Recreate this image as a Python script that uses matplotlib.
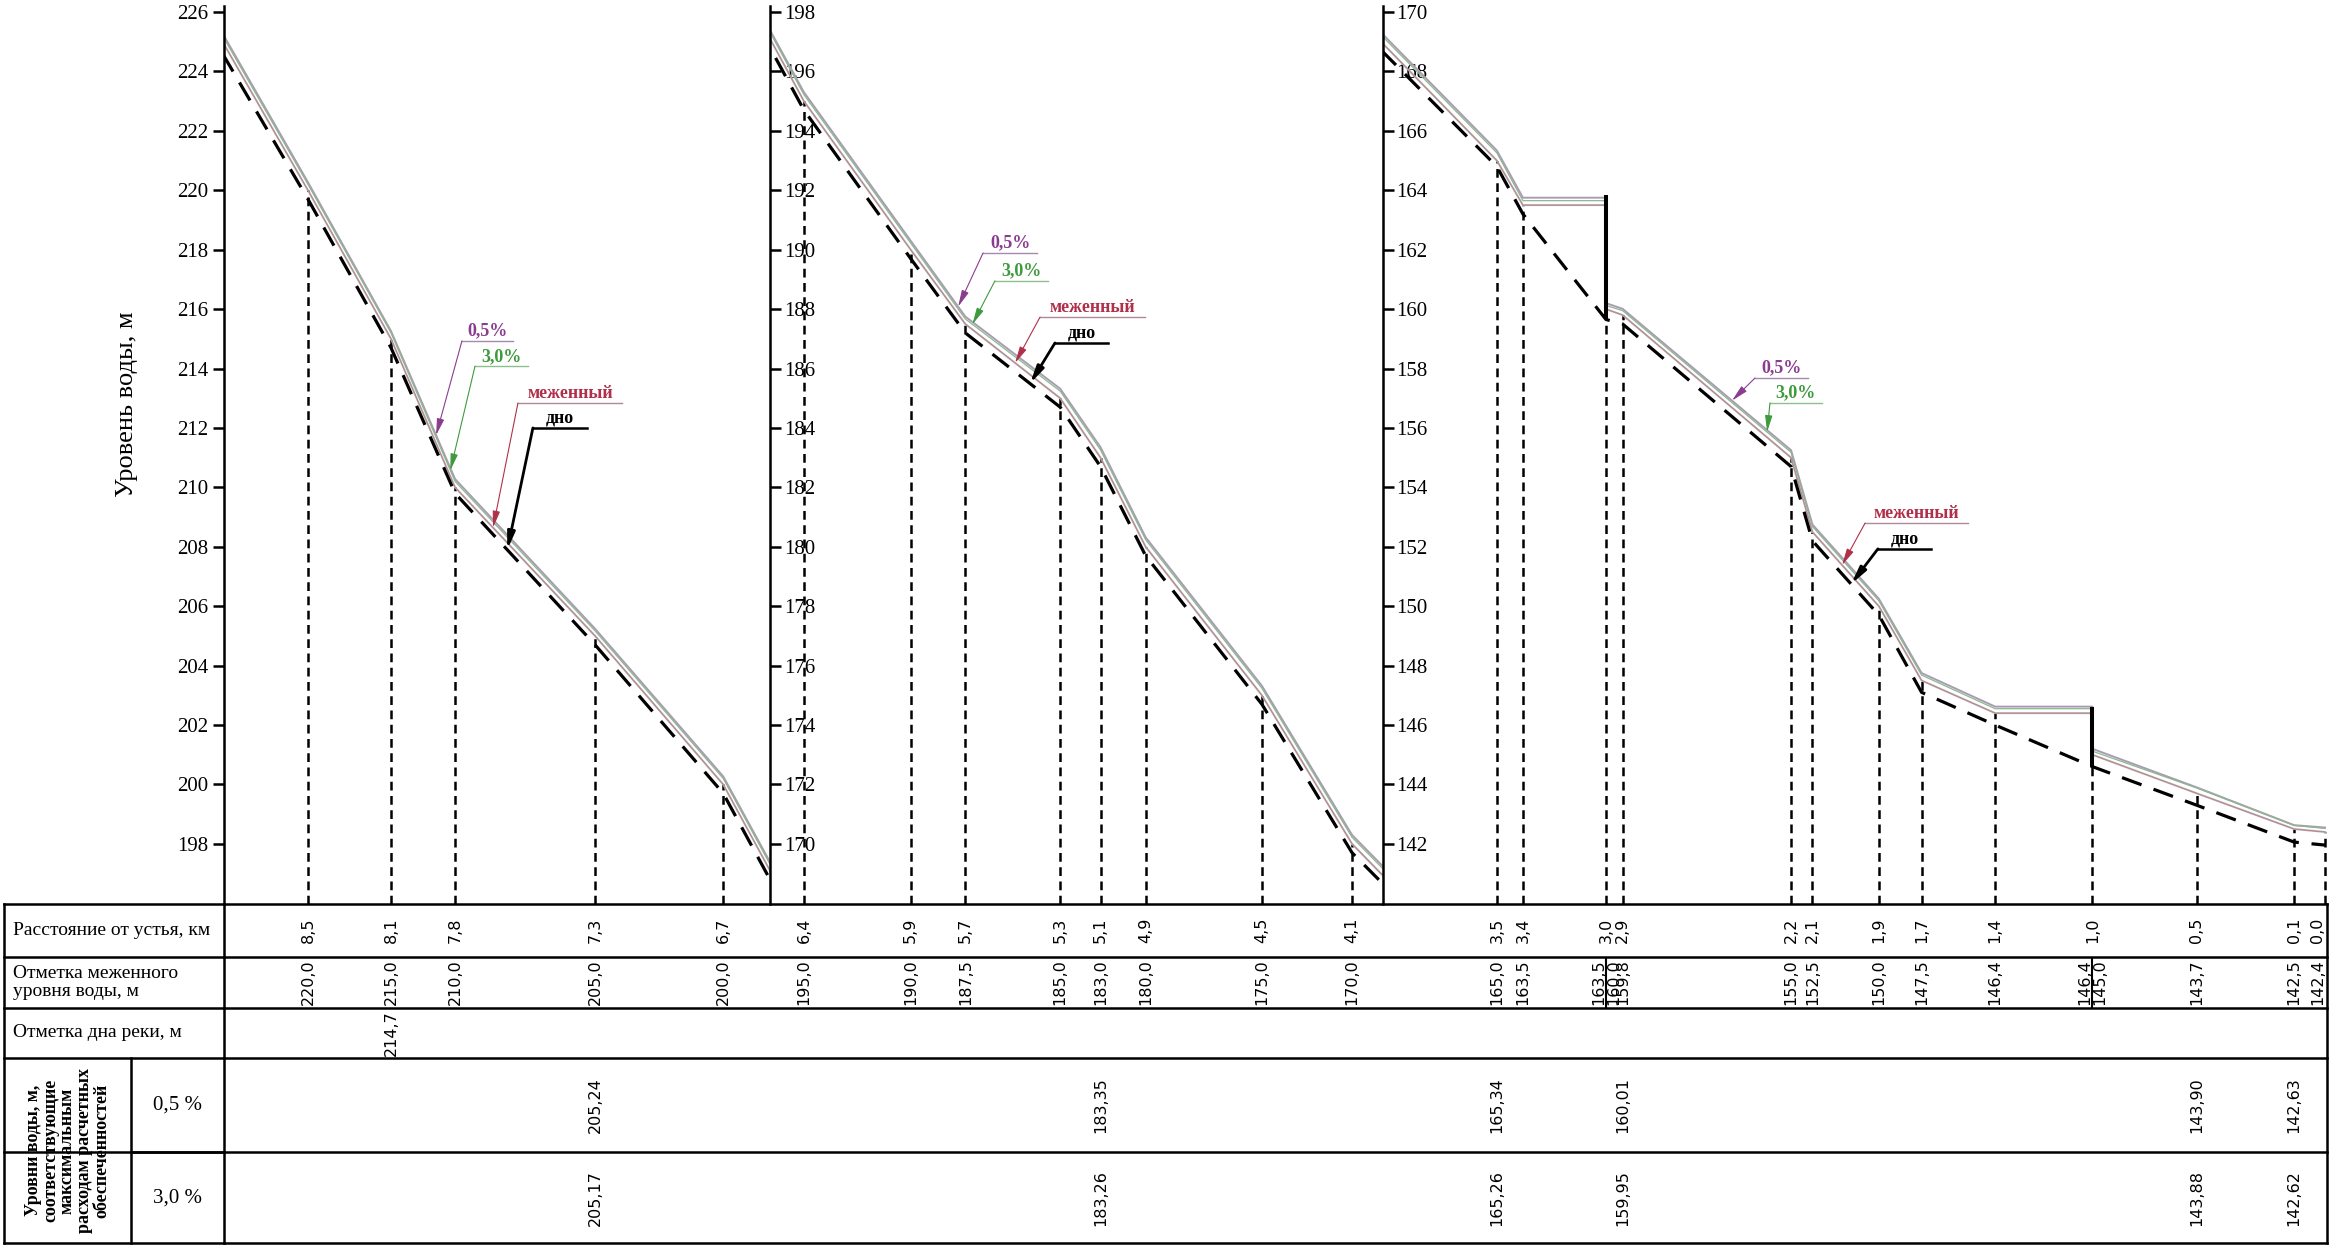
import numpy as np
import matplotlib
matplotlib.use('Agg')
import matplotlib.pyplot as plt
from matplotlib import font_manager

plt.rcParams['font.family'] = ['Liberation Serif', 'DejaVu Serif']

# stations as printed in the table (distance from the mouth, km)
station_km = ["8,5", "8,1", "7,8", "7,3", "6,7", "6,4", "5,9", "5,7", "5,3", "5,1",
              "4,9", "4,5", "4,1", "3,5", "3,4", "3,0", "2,9", "2,2", "2,1", "1,9",
              "1,7", "1,4", "1,0", "0,5", "0,1", "0,0"]
# position of each station along the drawing, km
station_pos = [8.50, 8.15, 7.88, 7.29, 6.75, 6.41, 5.96, 5.73, 5.33, 5.16,
               4.97, 4.48, 4.10, 3.49, 3.38, 3.03, 2.96, 2.25, 2.16, 1.88,
               1.70, 1.39, 0.98, 0.54, 0.13, 0.00]

# longitudinal profile: start of reach + stations, weirs at 3,0 and 1,0 appear twice
prof_pos = [8.86, 8.50, 8.15, 7.88, 7.29, 6.75, 6.41, 5.96, 5.73, 5.33, 5.16, 4.97,
            4.48, 4.10, 3.49, 3.38, 3.03, 3.03, 2.96, 2.25, 2.16, 1.88, 1.70, 1.39,
            0.98, 0.98, 0.54, 0.13, 0.00]
low_water = [225.0, 220.0, 215.0, 210.0, 205.0, 200.0, 195.0, 190.0, 187.5, 185.0, 183.0, 180.0,
             175.0, 170.0, 165.0, 163.5, 163.5, 160.0, 159.8, 155.0, 152.5, 150.0, 147.5, 146.4,
             146.4, 145.0, 143.7, 142.5, 142.4]
bed = [224.6, 219.7, 214.7, 209.8, 204.7, 199.7, 194.7, 189.7, 187.2, 184.7, 182.7, 179.7,
       174.7, 169.7, 164.8, 163.2, 159.65, 159.65, 159.5, 154.7, 152.2, 149.7, 147.1, 146.0,
       144.6, 144.6, 143.3, 142.06, 141.96]
flood_05 = [225.28, 220.27, 215.26, 210.28, 205.24, 200.27, 195.3, 190.3, 187.75, 185.32, 183.35, 180.32,
            175.32, 170.3, 165.34, 163.75, 163.75, 160.2, 160.01, 155.25, 152.75, 150.25, 147.75, 146.62,
            146.62, 145.2, 143.90, 142.63, 142.55]
flood_30 = [225.2, 220.2, 215.2, 210.2, 205.17, 200.2, 195.22, 190.22, 187.67, 185.24, 183.26, 180.24,
            175.24, 170.22, 165.26, 163.65, 163.65, 160.12, 159.95, 155.18, 152.68, 150.18, 147.68, 146.55,
            146.55, 145.12, 143.88, 142.62, 142.52]

# weirs
weir_km = ["3,0", "1,0"]
weir_top = [163.85, 146.6]
weir_foot = [159.65, 144.6]

# table rows
bed_km = ["8,1"]
bed_vals = [214.7]
flood_km = ["7,3", "5,1", "3,5", "2,9", "0,5", "0,1"]
flood_05_tab = [205.24, 183.35, 165.34, 160.01, 143.90, 142.63]
flood_30_tab = [205.17, 183.26, 165.26, 159.95, 143.88, 142.62]

panel_top = [226, 198, 170]

# ---- layout (pixels of the 2331x1250 sheet)
W, H = 2331, 1250
px_per_km = 237.3
x_zero = 2325          # pixel of 0 km
px_per_m = 29.71
tick_top_y = 12        # pixel of the top tick
plot_top, tab_top, tab_bot = 6, 904, 1243
panel_px = [224, 770, 1382.5, 2327]
lab_left = 4


def km(s):
    return station_pos[station_km.index(s)]


def fmt(v, n):
    return f"{v:.{n}f}".replace('.', ',')


names = {f.name for f in font_manager.fontManager.ttflist}
val_family = 'DejaVu Sans Condensed' if 'DejaVu Sans Condensed' in names else 'DejaVu Sans'
val_font = dict(family=val_family, fontsize=12 if val_family.endswith('Condensed') else 11.5)

fig = plt.figure(figsize=(W / 100, H / 100), dpi=100)
fig.patch.set_facecolor('white')

pos_rev = np.array(prof_pos)[::-1]
series = {'p05': flood_05, 'p30': flood_30, 'low': low_water, 'bed': bed}

# levels at which the vertical station lines stop
station_level = [min(v for p, v in zip(prof_pos, low_water) if p == s) for s in station_pos]

# leader notes: panel, text, colour, underline colour, series, tip km, elbow km, elbow level, end km, lw
notes = [
    (0, '0,5%', '#8a3d8f', '#a58aae', 'p05', 7.96, 7.851, 214.93, 7.636, 0.8),
    (0, '3,0%', '#3f9a3f', '#8cc08c', 'p30', 7.90, 7.796, 214.08, 7.573, 0.8),
    (0, 'меженный', '#b0304a', '#b08898', 'low', 7.72, 7.615, 212.84, 7.177, 0.8),
    (0, 'дно', 'black', 'black', 'bed', 7.66, 7.552, 212.0, 7.324, 2.0),
    (1, '0,5%', '#8a3d8f', '#a58aae', 'p05', 5.76, 5.655, 189.89, 5.427, 0.8),
    (1, '3,0%', '#3f9a3f', '#8cc08c', 'p30', 5.70, 5.605, 188.95, 5.381, 0.8),
    (1, 'меженный', '#b0304a', '#b08898', 'low', 5.52, 5.415, 187.73, 4.973, 0.8),
    (1, 'дно', 'black', 'black', 'bed', 5.457, 5.352, 186.86, 5.129, 2.0),
    (2, '0,5%', '#8a3d8f', '#a58aae', 'p05', 2.499, 2.402, 157.68, 2.179, 0.8),
    (2, '3,0%', '#3f9a3f', '#8cc08c', 'p30', 2.351, 2.339, 156.84, 2.120, 0.8),
    (2, 'меженный', '#b0304a', '#b08898', 'low', 2.035, 1.938, 152.8, 1.504, 0.8),
    (2, 'дно', 'black', 'black', 'bed', 1.997, 1.884, 151.93, 1.660, 2.0),
]

for i, top in enumerate(panel_top):
    x0, x1 = panel_px[i], panel_px[i + 1]
    ax = fig.add_axes([x0 / W, 1 - tab_top / H, (x1 - x0) / W, (tab_top - plot_top) / H])
    ax.set_xlim((x_zero - x0) / px_per_km, (x_zero - x1) / px_per_km)
    bottom = top - (tab_top - tick_top_y) / px_per_m
    ax.set_ylim(bottom, top + (tick_top_y - plot_top) / px_per_m)
    ax.patch.set_alpha(0)

    ax.vlines(station_pos, bottom, station_level, colors='black', lw=1.8,
              linestyles=(0, (3.5, 2.2)))
    ax.plot(prof_pos, flood_05, color='#a89cb4', lw=1.4)
    ax.plot(prof_pos, flood_30, color='#8cb88c', lw=0.9)
    ax.plot(prof_pos, low_water, color='#b4acb0', lw=1.4)
    ax.plot(prof_pos, low_water, color='#c07080', lw=0.4)
    ax.plot(prof_pos, bed, color='black', lw=2.3, linestyle=(0, (6.5, 4)))
    ax.vlines([km(k) for k in weir_km], weir_foot, weir_top, colors='black', lw=2.9)

    for p, txt, c, uc, key, tip, ex, ey, end, lw in notes:
        if p != i:
            continue
        tip_y = np.interp(tip, pos_rev, np.array(series[key])[::-1])
        ax.annotate('', xy=(tip, tip_y), xytext=(ex, ey),
                    arrowprops=dict(arrowstyle='-|>,head_length=1.0,head_width=0.22',
                                    color=c, lw=lw, shrinkA=0, shrinkB=0, mutation_scale=10))
        ax.plot([ex, end], [ey, ey], color=uc, lw=1.0 if lw < 1 else 1.8)
        ax.annotate(txt, xy=((ex + end) / 2, ey), xytext=(0, 1), textcoords='offset points',
                    ha='center', va='bottom', color=c, fontsize=13, fontweight='bold')

    for s in ['top', 'bottom']:
        ax.spines[s].set_visible(False)
    ax.set_xticks([])
    ax.set_yticks(np.arange(top - 28, top + 1, 2))
    if i == 0:
        ax.spines['right'].set_visible(False)
        ax.spines['left'].set_linewidth(1.8)
        ax.tick_params(axis='y', direction='out', length=8, width=1.8, labelsize=15, pad=3)
    else:
        ax.spines['left'].set_visible(False)
        ax.spines['right'].set_position(('axes', 0))
        ax.spines['right'].set_linewidth(1.8)
        ax.yaxis.tick_right()
        ax.tick_params(axis='y', direction='out', length=8, width=1.8, labelsize=15, pad=2)

fig.text(127 / W, 1 - 404 / H, 'Уровень воды, м', rotation=90, ha='center', va='center',
         fontsize=19)

# ---- table
rows = [0, 0.156, 0.307, 0.454, 0.732, 1.0]
mid = [(a + b) / 2 for a, b in zip(rows[:-1], rows[1:])]
lk = dict(color='black', lw=1.8, clip_on=False)

ax_l = fig.add_axes([lab_left / W, 1 - tab_bot / H, (panel_px[0] - lab_left) / W, (tab_bot - tab_top) / H])
ax_l.set_xlim(0, 1)
ax_l.set_ylim(1, 0)
ax_l.axis('off')
sub = (131 - lab_left) / (panel_px[0] - lab_left)
for r in rows:
    ax_l.plot([0, 1], [r, r], **lk)
ax_l.plot([0, 0], [0, 1], **lk)
ax_l.plot([1, 1], [0, 1], **lk)
ax_l.plot([sub, sub], [rows[3], 1], **lk)
ax_l.plot([sub, 1], [rows[4], rows[4]], **lk)

ax_l.text(0.04, mid[0], 'Расстояние от устья, км', ha='left', va='center', fontsize=14)
ax_l.text(0.04, mid[1], 'Отметка меженного\nуровня воды, м', ha='left', va='center',
          fontsize=14, linespacing=1.05)
ax_l.text(0.04, mid[2], 'Отметка дна реки, м', ha='left', va='center', fontsize=14)
ax_l.text(sub / 2, (rows[3] + rows[5]) / 2,
          'Уровни воды, м,\nсоответствующие\nмаксимальным\nрасходам расчетных\nобеспеченностей',
          rotation=90, ha='center', va='center', multialignment='center', fontsize=13,
          fontweight='bold', linespacing=1.0)
ax_l.text((sub + 1) / 2, mid[3], '0,5 %', ha='center', va='center', fontsize=15)
ax_l.text((sub + 1) / 2, mid[4], '3,0 %', ha='center', va='center', fontsize=15)

ax_t = fig.add_axes([panel_px[0] / W, 1 - tab_bot / H, (panel_px[-1] - panel_px[0]) / W,
                     (tab_bot - tab_top) / H])
ax_t.set_xlim((x_zero - panel_px[0]) / px_per_km, (x_zero - panel_px[-1]) / px_per_km)
ax_t.set_ylim(1, 0)
ax_t.axis('off')
yt = ax_t.get_yaxis_transform()
for r in rows:
    ax_t.plot([0, 1], [r, r], transform=yt, **lk)
ax_t.plot([1, 1], [0, 1], transform=yt, **lk)
ax_t.vlines([km(k) for k in weir_km], rows[1], rows[2], colors='black', lw=1.5)

last = len(station_km) - 1
for j, (k, p) in enumerate(zip(station_km, station_pos)):
    ax_t.text(p, mid[0], k, rotation=90, ha='right' if j == last else 'center', va='center',
              **val_font)

pts = list(zip(prof_pos, low_water))[1:]
for j, (p, v) in enumerate(pts):
    dup_prev = j > 0 and pts[j - 1][0] == p
    dup_next = j < len(pts) - 1 and pts[j + 1][0] == p
    ha = 'right' if dup_next else 'left' if dup_prev else 'center'
    if j == len(pts) - 1:
        ha = 'right'
    ax_t.text(p, mid[1], fmt(v, 1), rotation=90, ha=ha, va='center', **val_font)

for k, v in zip(bed_km, bed_vals):
    ax_t.text(km(k), mid[2], fmt(v, 1), rotation=90, ha='center', va='center', **val_font)

for k, a, b in zip(flood_km, flood_05_tab, flood_30_tab):
    ax_t.text(km(k), mid[3], fmt(a, 2), rotation=90, ha='center', va='center', **val_font)
    ax_t.text(km(k), mid[4], fmt(b, 2), rotation=90, ha='center', va='center', **val_font)

fig.savefig('out.png', dpi=100)
